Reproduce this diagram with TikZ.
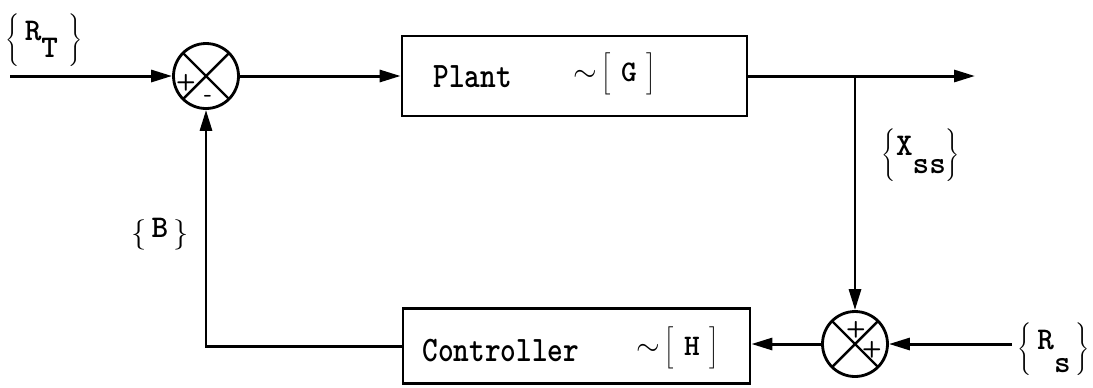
\documentclass[tikz,border=0pt]{standalone}
\usepackage{fontspec}
\usetikzlibrary{arrows.meta,calc}
\newcommand\brc[2]{$\left\{\vcenter{\hbox{\vrule height #1 depth #1 width 0pt #2}}\right\}$}
\begin{document}
\begin{tikzpicture}[x=0.02cm,y=-0.02cm,
  conn/.style={line width=1.7pt,-{Triangle[length=0.42cm,width=0.24cm]}},
  sumj/.style={circle,draw,line width=1.6pt,minimum size=1.3cm,inner sep=0pt,
    path picture={\draw[line width=1.4pt]
      (path picture bounding box.north west) -- (path picture bounding box.south east)
      (path picture bounding box.north east) -- (path picture bounding box.south west);}},
  blk/.style={draw,line width=1.6pt,inner sep=0pt},
  btxt/.style={font=\ttfamily\bfseries\fontsize{17}{20}\selectfont,inner sep=0pt,anchor=west},
  lbl/.style={font=\ttfamily\bfseries\fontsize{18}{20}\selectfont,inner sep=0pt},
  sgn/.style={font=\sffamily\bfseries\fontsize{13}{13}\selectfont,inner sep=0pt}]
\useasboundingbox (0,0) rectangle (1093,387);

% blocks
\node[blk,minimum width=6.9cm,minimum height=1.6cm] (plant) at (574.5,76) {};
\node[blk,minimum width=6.94cm,minimum height=1.5cm] (ctrl) at (576.5,346) {};
\node[btxt] (plt) at (433,77) {\scalebox{1}[1.2]{Plant}};
\node[btxt] (pltg) at (573,74) {$\sim$\,$\bigg[$\,\,G\,\,$\bigg]$};
\node[btxt] (ctt) at (422,351) {\scalebox{1}[1.2]{Controller}};
\node[btxt] (ctth) at (636,348) {$\sim$\,$\bigg[$\,\,H\,\,$\bigg]$};

% summing junctions
\node[sumj] (s1) at (206,76) {};
\node[sumj] (s2) at (855,344) {};
\node[sgn] (s1p) at (186,83) {+};
\node[sgn] (s1m) at (208,98) {-};
\node[sgn] (s2a) at (856,330) {+};
\node[sgn] (s2b) at (872,350) {+};

% free ends
\coordinate (in) at (10,76);
\coordinate (out) at (975,76);
\coordinate (br) at (855,76);
\coordinate (rs) at (1012,344);

% connectors
\draw[conn] (in) -- (s1.west);
\draw[conn] (s1.east) -- (plant.west);
\draw[conn] (plant.east) -- (out);
\draw[conn] (br) -- (s2.north);
\draw[conn] (rs) -- (s2.east);
\draw[conn] (s2.west) -- (ctrl.east |- s2.west);
\draw[conn] (ctrl.west) -- (s1 |- ctrl.west) -- (s1.south);

% labels
\node[lbl] (lrt) at (44,40) {\brc{15pt}{\,R\raisebox{-0.55em}{T}\,\,}};
\node[lbl] (lxs) at (921,155) {\brc{16pt}{X\raisebox{-0.6em}{ss}}};
\node[lbl] (lb) at (160,235) {\brc{8pt}{\,B\,}};
\node[lbl] (lrs) at (1054,349) {\brc{16pt}{\,R\raisebox{-0.75em}{s}\,}};
\end{tikzpicture}
\end{document}
